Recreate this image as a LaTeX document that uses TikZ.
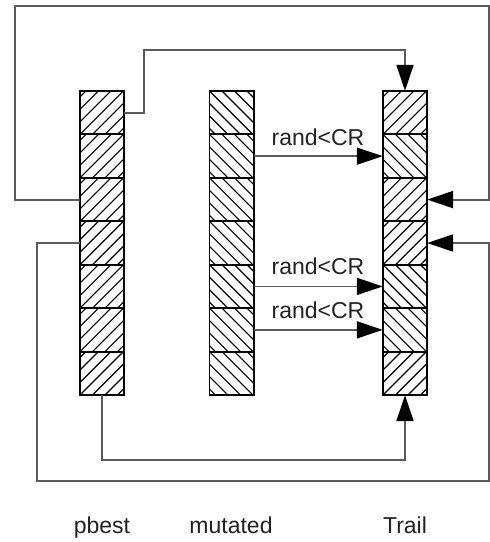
\documentclass[tikz,border=0pt]{standalone}
\usepackage{fontspec}
\setmainfont{Liberation Sans}
\usetikzlibrary{arrows.meta,calc}
\definecolor{linegray}{HTML}{5A5A5A}
\definecolor{txt}{HTML}{222222}
\newcommand\hatchNE[1]{%
  \begin{scope}
    \clip (#1.south west) rectangle (#1.north east);
    \foreach \k in {-4,...,4}
      \draw[hatchline] ($(#1.south west)+(\k*12.5,0)$) -- ++(50,-50);
  \end{scope}}
\newcommand\hatchNW[1]{%
  \begin{scope}
    \clip (#1.south west) rectangle (#1.north east);
    \foreach \k in {-4,...,4}
      \draw[hatchline] ($(#1.north west)+(\k*12.5,0)$) -- ++(50,50);
  \end{scope}}
\begin{document}
\begin{tikzpicture}[x=1pt,y=-1pt,
  cellbox/.style={minimum width=44pt,minimum height=43.43pt,inner sep=0pt},
  hatchline/.style={draw=black,line width=1.1pt},
  cellborder/.style={draw=black,line width=1.6pt},
  link/.style={draw=linegray,line width=2pt,-{Triangle[length=26pt,width=17pt,color=black]}},
  lbl/.style={font=\fontsize{23}{27}\selectfont,anchor=base,inner sep=0pt,text=txt}
]
\fill[white] (0,0) rectangle (490,542);
\useasboundingbox (0,0) rectangle (490,542);

% cells
\foreach \i in {1,...,7} {
  \node[cellbox] (p\i) at (102,{91+43.43*(\i-0.5)}) {};
  \node[cellbox] (m\i) at (231.5,{91+43.43*(\i-0.5)}) {};
  \node[cellbox] (t\i) at (405,{91+43.43*(\i-0.5)}) {};
}
% hatching
\foreach \i in {1,...,7} {
  \hatchNE{p\i}
  \hatchNW{m\i}
}
\foreach \i in {1,3,4,7} {\hatchNE{t\i}}
\foreach \i in {2,5,6} {\hatchNW{t\i}}
% cell borders
\foreach \i in {1,...,7} {
  \draw[cellborder] (p\i.north west) rectangle (p\i.south east);
  \draw[cellborder] (m\i.north west) rectangle (m\i.south east);
  \draw[cellborder] (t\i.north west) rectangle (t\i.south east);
}

% outer loops
\draw[link] (p3.west) -- ++(-65,0) |- (489,6) |- (t3.east);
\draw[link] (p1.east) -- ++(20,0) |- (405,50) -- (t1.north);
\draw[link] (p4.west) -- ++(-43,0) |- (489,481) |- (t4.east);
\draw[link] (p7.south) |- (405,460) -- (t7.south);

% crossover arrows
\draw[link,line width=1.6pt] (m2.east) -- (t2.west);
\draw[link,line width=1.6pt] (m5.east) -- (t5.west);
\draw[link,line width=1.6pt] (m6.east) -- (t6.west);

\node[lbl] (r1) at (318,145) {rand<CR};
\node[lbl] (r2) at (318,274) {rand<CR};
\node[lbl] (r3) at (318,318) {rand<CR};

\node[lbl] (lp) at (102,533) {pbest};
\node[lbl] (lm) at (231,533) {mutated};
\node[lbl] (lt) at (405,533) {Trail};
\end{tikzpicture}
\end{document}
